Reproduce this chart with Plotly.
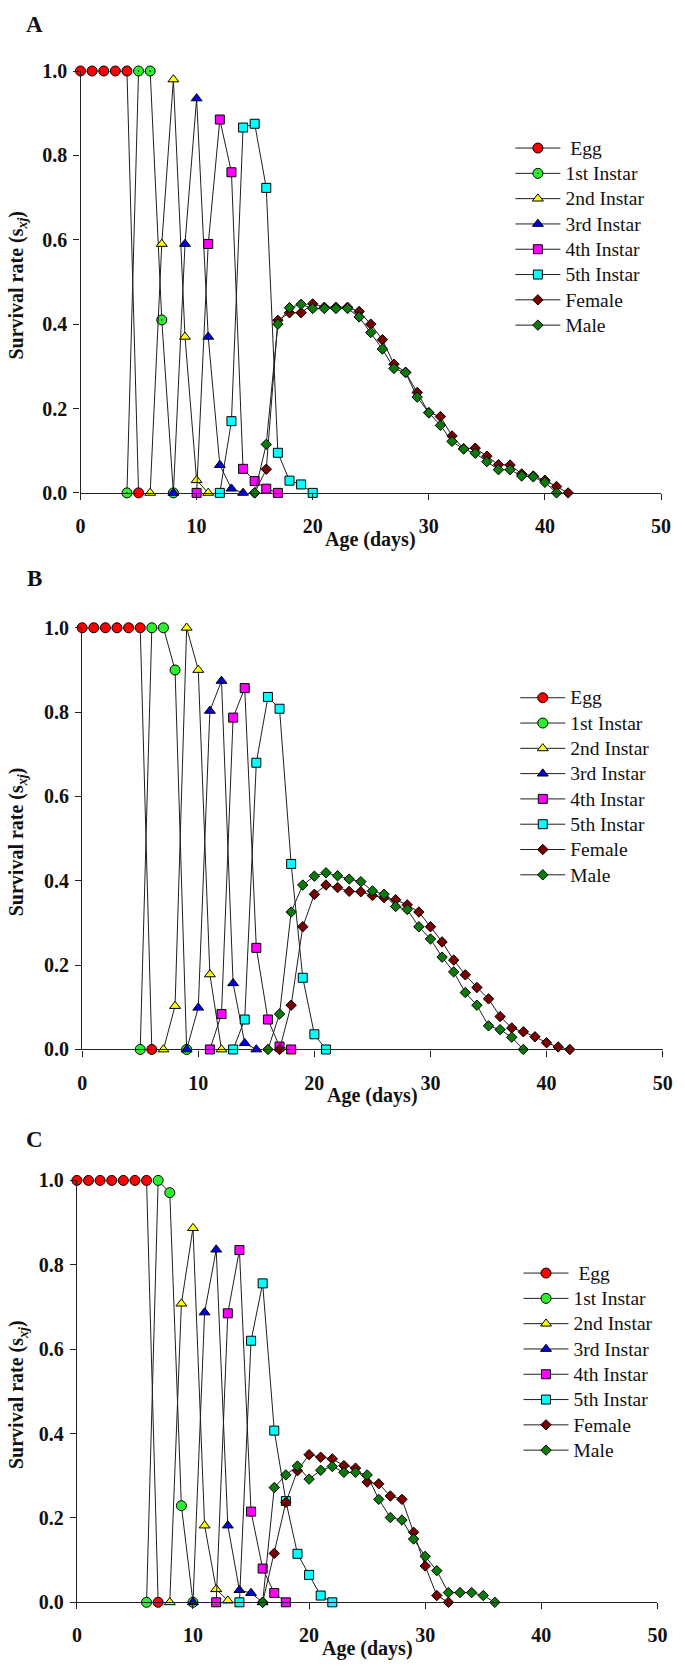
import plotly.graph_objects as go

FONT = "Liberation Serif"

# ---- panel A ----
a_egg_x = [0, 1, 2, 3, 4, 5]
a_egg_y = [1, 1, 1, 1, 1, 0]
a_in1_x = [4, 5, 6, 7, 8]
a_in1_y = [0, 1, 1, 0.41, 0]
a_in2_x = [6, 7, 8, 9, 10, 11]
a_in2_y = [0, 0.59, 0.98, 0.37, 0.03, 0]
a_in3_x = [8, 9, 10, 11, 12, 13, 14]
a_in3_y = [0, 0.59, 0.935, 0.37, 0.066, 0.01, 0]
a_in4_x = [10, 11, 12, 13, 14, 15, 16, 17]
a_in4_y = [0, 0.59, 0.885, 0.76, 0.057, 0.028, 0.01, 0]
a_in5_x = [12, 13, 14, 15, 16, 17, 18, 19, 20]
a_in5_y = [0, 0.17, 0.866, 0.875, 0.723, 0.095, 0.029, 0.02, 0]
a_fem_x = list(range(15, 43))
a_fem_y = [0, 0.056, 0.409, 0.427, 0.427, 0.448, 0.44, 0.44, 0.44, 0.43,
           0.40, 0.363, 0.305, 0.286, 0.238, 0.19, 0.181, 0.135, 0.105, 0.106,
           0.087, 0.067, 0.066, 0.045, 0.04, 0.03, 0.015, 0]
a_mal_x = list(range(15, 42))
a_mal_y = [0, 0.115, 0.40, 0.439, 0.447, 0.437, 0.437, 0.437, 0.437, 0.417,
           0.38, 0.341, 0.295, 0.285, 0.227, 0.19, 0.16, 0.122, 0.104, 0.094,
           0.074, 0.055, 0.055, 0.04, 0.038, 0.025, 0]

# ---- panel B ----
b_egg_x = [0, 1, 2, 3, 4, 5, 6]
b_egg_y = [1, 1, 1, 1, 1, 1, 0]
b_in1_x = [5, 6, 7, 8, 9]
b_in1_y = [0, 1, 1, 0.90, 0]
b_in2_x = [7, 8, 9, 10, 11, 12]
b_in2_y = [0, 0.103, 1.0, 0.90, 0.178, 0]
b_in3_x = [9, 10, 11, 12, 13, 14, 15]
b_in3_y = [0, 0.099, 0.803, 0.874, 0.157, 0.015, 0]
b_in4_x = [11, 12, 13, 14, 15, 16, 17, 18]
b_in4_y = [0, 0.084, 0.787, 0.857, 0.241, 0.071, 0.007, 0]
b_in5_x = [13, 14, 15, 16, 17, 18, 19, 20, 21]
b_in5_y = [0, 0.071, 0.68, 0.836, 0.808, 0.44, 0.17, 0.036, 0]
b_fem_x = list(range(17, 43))
b_fem_y = [0, 0.105, 0.291, 0.368, 0.39, 0.384, 0.375, 0.374, 0.365, 0.36,
           0.355, 0.343, 0.326, 0.291, 0.255, 0.212, 0.177, 0.147, 0.12, 0.078,
           0.051, 0.042, 0.03, 0.016, 0.006, 0]
b_mal_x = list(range(16, 39))
b_mal_y = [0, 0.084, 0.326, 0.39, 0.411, 0.419, 0.412, 0.404, 0.398, 0.376,
           0.368, 0.339, 0.332, 0.291, 0.262, 0.219, 0.184, 0.135, 0.105, 0.056,
           0.047, 0.029, 0]

# ---- panel C ----
c_egg_x = [0, 1, 2, 3, 4, 5, 6, 7]
c_egg_y = [1, 1, 1, 1, 1, 1, 1, 0]
c_in1_x = [6, 7, 8, 9, 10]
c_in1_y = [0, 1, 0.971, 0.229, 0]
c_in2_x = [8, 9, 10, 11, 12, 13]
c_in2_y = [0, 0.708, 0.887, 0.182, 0.031, 0.004]
c_in3_x = [10, 11, 12, 13, 14, 15, 16]
c_in3_y = [0, 0.687, 0.836, 0.182, 0.029, 0.022, 0]
c_in4_x = [12, 13, 14, 15, 16, 17, 18]
c_in4_y = [0, 0.685, 0.835, 0.215, 0.08, 0.022, 0]
c_in5_x = [14, 15, 16, 17, 18, 19, 20, 21, 22]
c_in5_y = [0, 0.62, 0.756, 0.407, 0.24, 0.115, 0.065, 0.016, 0]
c_fem_x = list(range(16, 33))
c_fem_y = [0, 0.116, 0.237, 0.312, 0.35, 0.344, 0.34, 0.324, 0.318, 0.285,
           0.281, 0.252, 0.244, 0.166, 0.086, 0.016, 0]
c_mal_x = list(range(16, 37))
c_mal_y = [0, 0.272, 0.302, 0.323, 0.292, 0.313, 0.322, 0.308, 0.308, 0.302,
           0.244, 0.201, 0.195, 0.15, 0.109, 0.075, 0.023, 0.023, 0.023, 0.016, 0]

stages = ["Egg", "1st Instar", "2nd Instar", "3rd Instar",
          "4th Instar", "5th Instar", "Female", "Male"]
colors = ["#ff0000", "#2cf02c", "#ffff00", "#0000e6",
          "#ff00ff", "#00ffff", "#7b0000", "#0a7a0a"]
symbols = ["circle", "circle", "triangle-up", "triangle-up",
           "square", "square", "diamond", "diamond"]
sizes = [10, 10, 9.5, 9.5, 9, 9, 8, 8]

panels = [
    ([a_egg_x, a_in1_x, a_in2_x, a_in3_x, a_in4_x, a_in5_x, a_fem_x, a_mal_x],
     [a_egg_y, a_in1_y, a_in2_y, a_in3_y, a_in4_y, a_in5_y, a_fem_y, a_mal_y]),
    ([b_egg_x, b_in1_x, b_in2_x, b_in3_x, b_in4_x, b_in5_x, b_fem_x, b_mal_x],
     [b_egg_y, b_in1_y, b_in2_y, b_in3_y, b_in4_y, b_in5_y, b_fem_y, b_mal_y]),
    ([c_egg_x, c_in1_x, c_in2_x, c_in3_x, c_in4_x, c_in5_x, c_fem_x, c_mal_x],
     [c_egg_y, c_in1_y, c_in2_y, c_in3_y, c_in4_y, c_in5_y, c_fem_y, c_mal_y]),
]

W, H = 685, 1674
# pixel geometry of each panel: x at 0, x at 50, y at 0, y at 1, letter y, legend (x, top)
geo = [
    dict(x0=77.2, x1=670.7, yb=488.3, yt=60.8, letter=14, leg=(516.7, 121)),
    dict(x0=78.9, x1=672.4, yb=1052.3, yt=625.0, letter=575, leg=(521.7, 678)),
    dict(x0=73.5, x1=667.0, yb=1612.5, yt=1185.0, letter=1144, leg=(525, 1261)),
]

fig = go.Figure()
legend_ids = ["legend", "legend2", "legend3"]

for p, (xs, ys) in enumerate(panels):
    sfx = "" if p == 0 else str(p + 1)
    for i in range(8):
        name = stages[i]
        if i == 0 and p != 1:
            name = "\u00a0" + name
        sym = symbols[i]
        if p == 0 and i == 1:
            sym = "circle-dot"
        fig.add_trace(go.Scatter(
            x=xs[i], y=ys[i], mode="lines+markers",
            name='<span style="font-size:19.5px">' + name + "</span>",
            xaxis="x" + sfx, yaxis="y" + sfx, legend=legend_ids[p],
            cliponaxis=False,
            line=dict(color="#1e1e1e", width=1),
            marker=dict(symbol=sym, size=sizes[i], color=colors[i],
                        line=dict(color="#000000", width=1)),
        ))

axis_common = dict(showline=True, linecolor="#222222", linewidth=1.3,
                   ticks="outside", ticklen=6, tickwidth=1.3, tickcolor="#222222",
                   showgrid=False, zeroline=False,
                   tickfont=dict(family=FONT, size=20, color="#111111", weight="bold"))

annotations = []
layout = {}
for p, g in enumerate(geo):
    sfx = "" if p == 0 else str(p + 1)
    layout["xaxis" + sfx] = dict(
        domain=[g["x0"] / W, g["x1"] / W], anchor="y" + sfx, range=[0, 50],
        tickvals=[0, 10, 20, 30, 40, 50], ticklabelstandoff=9, **axis_common)
    layout["yaxis" + sfx] = dict(
        domain=[1 - g["yb"] / H, 1 - g["yt"] / H], anchor="x" + sfx, range=[0, 1],
        tickvals=[0, 0.2, 0.4, 0.6, 0.8, 1.0], tickformat=".1f",
        ticklabelstandoff=2, **axis_common)
    lx, ly = g["leg"]
    layout[legend_ids[p]] = dict(
        x=lx / W, y=1 - ly / H, xanchor="left", yanchor="top",
        bgcolor="rgba(0,0,0,0)", itemwidth=45, tracegroupgap=0,
        font=dict(family=FONT, size=17.15, color="#111111"))
    annotations.append(dict(text="ABC"[p], x=30 / W, y=1 - g["letter"] / H,
                            xref="paper", yref="paper", showarrow=False,
                            xanchor="center", yanchor="middle",
                            font=dict(family=FONT, size=23, color="#111111", weight="bold")))
    annotations.append(dict(text="Age (days)", x=(g["x0"] + g["x1"]) / 2 / W,
                            y=1 - (g["yb"] + 47) / H, xref="paper", yref="paper",
                            showarrow=False, xanchor="center", yanchor="middle",
                            font=dict(family=FONT, size=20, color="#111111", weight="bold")))
    annotations.append(dict(text="Survival rate (s<sub><i>xj</i></sub>)",
                            x=13 / W, y=1 - ((g["yb"] + g["yt"]) / 2 + 3) / H,
                            xref="paper", yref="paper", showarrow=False, textangle=-90,
                            xanchor="center", yanchor="middle",
                            font=dict(family=FONT, size=20, color="#111111", weight="bold")))

fig.update_layout(
    width=W, height=H, margin=dict(l=0, r=0, t=0, b=0),
    paper_bgcolor="white", plot_bgcolor="white",
    annotations=annotations, **layout,
)

# the page body gets the browser's default 8px margin; drop it so the figure fills the window
fig.write_html("out.html", config={"displayModeBar": False},
               post_script="document.body.style.margin='0px';")
